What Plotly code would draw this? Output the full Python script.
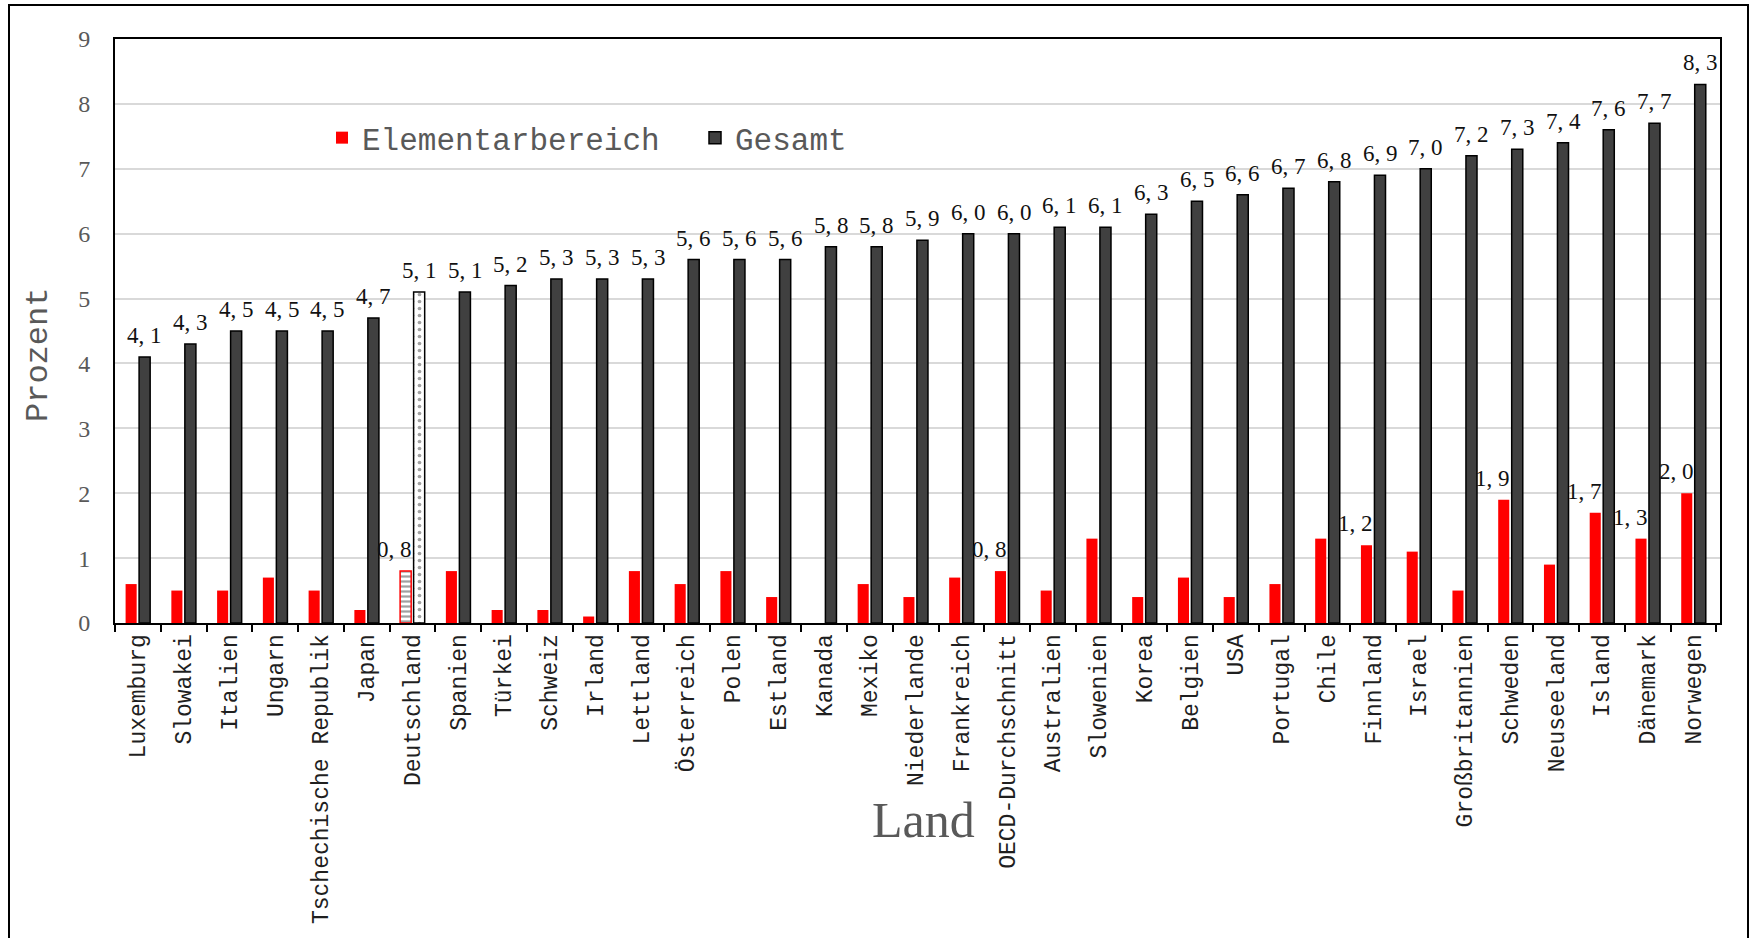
import plotly.graph_objects as go

# Public spending share in percent, per country
laender = [
    "Luxemburg", "Slowakei", "Italien", "Ungarn", "Tschechische Republik", "Japan",
    "Deutschland", "Spanien", "Türkei", "Schweiz", "Irland", "Lettland", "Österreich",
    "Polen", "Estland", "Kanada", "Mexiko", "Niederlande", "Frankreich",
    "OECD-Durchschnitt", "Australien", "Slowenien", "Korea", "Belgien", "USA",
    "Portugal", "Chile", "Finnland", "Israel", "Großbritannien", "Schweden",
    "Neuseeland", "Island", "Dänemark", "Norwegen",
]
elementarbereich = [
    0.6, 0.5, 0.5, 0.7, 0.5, 0.2, 0.8, 0.8, 0.2, 0.2, 0.1, 0.8, 0.6, 0.8, 0.4, 0.0,
    0.6, 0.4, 0.7, 0.8, 0.5, 1.3, 0.4, 0.7, 0.4, 0.6, 1.3, 1.2, 1.1, 0.5, 1.9, 0.9,
    1.7, 1.3, 2.0,
]
gesamt = [
    4.1, 4.3, 4.5, 4.5, 4.5, 4.7, 5.1, 5.1, 5.2, 5.3, 5.3, 5.3, 5.6, 5.6, 5.6, 5.8,
    5.8, 5.9, 6.0, 6.0, 6.1, 6.1, 6.3, 6.5, 6.6, 6.7, 6.8, 6.9, 7.0, 7.2, 7.3, 7.4,
    7.6, 7.7, 8.3,
]
# countries whose Elementarbereich value carries a label
elementar_beschriftet = [
    "Deutschland", "OECD-Durchschnitt", "Finnland", "Schweden", "Island",
    "Dänemark", "Norwegen",
]
hervorgehoben = "Deutschland"
y_ticks = list(range(0, 10))

W, H = 1750, 938
M_L, M_R, M_T, M_B = 115, 30, 39, 315
PW, PH = W - M_L - M_R, H - M_T - M_B

RED = "#ff0000"
DARK = "#404040"
GREY_TXT = "#595959"

def fmt(v):
    return f"{v:.1f}".replace(".", ", ")

hl = [c == hervorgehoben for c in laender]

red_trace = go.Bar(
    name="Elementarbereich", x=laender, y=elementarbereich,
    marker=dict(
        color=[("white" if h else RED) for h in hl],
        line=dict(color=RED, width=[(1.5 if h else 0) for h in hl]),
        pattern=dict(
            shape=[("-" if h else "") for h in hl],
            fgcolor=RED, bgcolor=[("white" if h else RED) for h in hl],
            size=5, solidity=0.45,
        ),
    ),
)
dark_trace = go.Bar(
    name="Gesamt", x=laender, y=gesamt,
    marker=dict(
        color=[("white" if h else DARK) for h in hl],
        line=dict(color="black", width=1.5),
        pattern=dict(
            shape=[("." if h else "") for h in hl],
            fgcolor="black", bgcolor=[("white" if h else DARK) for h in hl],
            size=7, solidity=0.22,
        ),
    ),
)

fig = go.Figure([red_trace, dark_trace])

annotations = []
label_font = dict(family="Liberation Serif", size=23, color="#111111")
for c, v in zip(laender, gesamt):
    annotations.append(dict(
        x=c, y=v, xref="x", yref="y", text=fmt(v), showarrow=False,
        xanchor="center", yanchor="bottom", xshift=7, yshift=7, font=label_font,
    ))
for c, v in zip(laender, elementarbereich):
    if c in elementar_beschriftet:
        annotations.append(dict(
            x=c, y=v, xref="x", yref="y", text=fmt(v), showarrow=False,
            xanchor="right", yanchor="bottom", xshift=2, yshift=7, font=label_font,
        ))

def px_x(p):
    return (p - M_L) / PW

def px_y(p):
    return (H - M_B - p) / PH

annotations.append(dict(
    x=px_x(39), y=px_y(355), xref="paper", yref="paper", text="Prozent",
    showarrow=False, textangle=-90, xanchor="center", yanchor="middle",
    font=dict(family="Liberation Mono", size=32, color=GREY_TXT),
))
annotations.append(dict(
    x=px_x(923), y=px_y(820), xref="paper", yref="paper", text="Land",
    showarrow=False, xanchor="center", yanchor="middle",
    font=dict(family="Liberation Serif", size=50, color=GREY_TXT),
))

fig.update_layout(
    width=W, height=H,
    margin=dict(l=M_L, r=M_R, t=M_T, b=M_B, autoexpand=False),
    paper_bgcolor="white", plot_bgcolor="white",
    barmode="group", bargap=0.41, bargroupgap=0.18,
    showlegend=True,
    legend=dict(
        orientation="h", x=px_x(322), y=px_y(138), xanchor="left", yanchor="middle",
        font=dict(family="Liberation Mono", size=31, color=GREY_TXT),
        bgcolor="rgba(0,0,0,0)", itemwidth=30, entrywidth=328, traceorder="normal",
    ),
    annotations=annotations,
    shapes=[dict(
        type="rect", xref="paper", yref="paper",
        x0=px_x(9), x1=px_x(1748), y0=px_y(1000), y1=px_y(5),
        line=dict(color="black", width=2), fillcolor="rgba(0,0,0,0)", layer="below",
    )],
)

fig.update_xaxes(
    type="category", showline=True, mirror=True, linecolor="black", linewidth=2,
    ticks="outside", tickson="boundaries", ticklen=7, tickwidth=2, tickcolor="black",
    tickangle=-90, showgrid=False,
    tickfont=dict(family="Liberation Mono", size=23, color="#1f1f1f"),
)
fig.update_yaxes(
    range=[0, 9], tickvals=y_ticks, showline=True, mirror=True, linecolor="black",
    linewidth=2, ticks="", ticklabelstandoff=18, showgrid=True, gridcolor="#d9d9d9",
    gridwidth=1.5, zeroline=False,
    tickfont=dict(family="Liberation Serif", size=24, color=GREY_TXT),
)

fig.write_html("out.html")
